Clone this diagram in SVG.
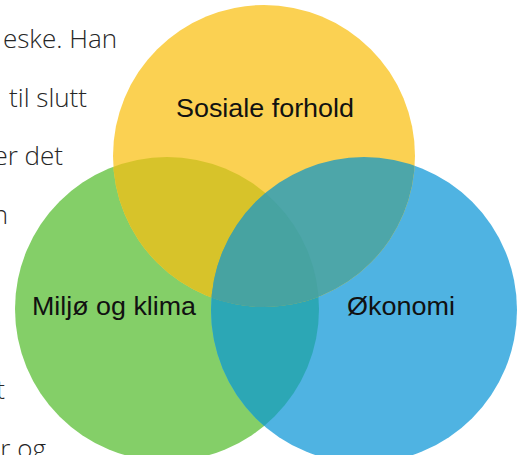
<svg xmlns="http://www.w3.org/2000/svg" width="520" height="455" viewBox="0 0 520 455">
<style>
.bg{font-family:"Open Sans","Liberation Sans",sans-serif;font-weight:300;font-size:26px;fill:#262626;text-anchor:end}
.lbl{font-family:"Liberation Sans","Helvetica",sans-serif;font-size:25px;fill:#111;text-anchor:middle}
</style>
<defs>
<clipPath id="cY"><circle cx="264" cy="156" r="151"/></clipPath>
<clipPath id="cG"><circle cx="167" cy="309" r="152"/></clipPath>
<clipPath id="cB"><circle cx="364" cy="310" r="153"/></clipPath>
</defs>
<rect width="520" height="455" fill="#fff"/>
<g id="page-text">
<text class="bg" x="117" y="48">eske. Han</text>
<text class="bg" x="87" y="107">til slutt</text>
<text class="bg" x="63" y="165">er det</text>
<text class="bg" x="8" y="224">n</text>
<text class="bg" x="5" y="399">t</text>
<text class="bg" x="46" y="458">r og</text>
</g>
<g id="node-miljo">
<circle cx="167" cy="309" r="152" fill="#84CF68"/>
</g>
<g id="node-okonomi">
<circle cx="364" cy="310" r="153" fill="#4FB3E2"/>
</g>
<g id="node-sosiale">
<circle cx="264" cy="156" r="151" fill="#FBD152"/>
</g>
<g id="overlaps">
<g clip-path="url(#cG)"><circle cx="364" cy="310" r="153" fill="#2CA7B5"/></g>
<g clip-path="url(#cG)"><circle cx="264" cy="156" r="151" fill="#D7C32A"/></g>
<g clip-path="url(#cB)"><circle cx="264" cy="156" r="151" fill="#4DA6A9"/></g>
<g clip-path="url(#cB)"><g clip-path="url(#cG)"><circle cx="264" cy="156" r="151" fill="#47A3A1"/></g></g>
</g>
<g id="labels">
<text class="lbl" x="265" y="117" textLength="178" lengthAdjust="spacingAndGlyphs">Sosiale forhold</text>
<text class="lbl" x="114" y="315" textLength="164" lengthAdjust="spacingAndGlyphs">Miljø og klima</text>
<text class="lbl" x="401" y="315" textLength="108" lengthAdjust="spacingAndGlyphs">Økonomi</text>
</g>
</svg>
